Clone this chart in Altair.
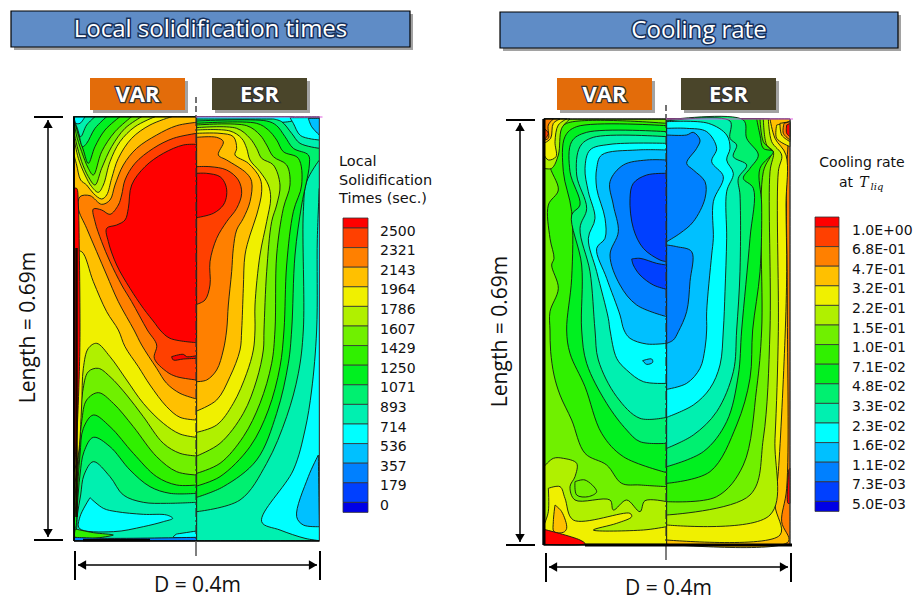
import altair as alt
import pandas as pd

# 16 colour bands, lowest to highest
BAND_COLORS = ["#0000e6", "#0040ff", "#0080ff", "#00c0ff", "#00ffff", "#00f0b0", "#00f070", "#00f020",
               "#30f000", "#70f000", "#b0f000", "#f0f000", "#ffc000", "#ff8000", "#ff4000", "#ff0000"]
TIME_LABELS = ["2500", "2321", "2143", "1964", "1786", "1607", "1429", "1250", "1071", "893", "714", "536", "357", "179", "0"]
RATE_LABELS = ["1.0E+00", "6.8E-01", "4.7E-01", "3.2E-01", "2.2E-01", "1.5E-01", "1.0E-01", "7.1E-02", "4.8E-02",
               "3.3E-02", "2.3E-02", "1.6E-02", "1.1E-02", "7.3E-03", "5.0E-03"]

# Contour regions: (band, outline), painted in order
LEFT_VAR = [
 (5, [(42,35),(410,35),(410,1307),(42,1307)]),
 (6, [(42,35),(410,35),(410,1192),(320,1195),(250,1192),(190,1170),(150,1115),(100,1070),(72,1110),(62,1170),(52,1230),(48,1275),(42,1275)]),
 (7, [(42,35),(410,35),(410,1165),(330,1165),(270,1145),(210,1095),(150,1025),(100,997),(72,1040),(60,1110),(52,1200),(46,1270),(42,1270)]),
 (8, [(42,35),(410,35),(410,1140),(350,1140),(290,1115),(220,1045),(150,965),(100,930),(70,970),(60,1050),(50,1180),(42,1250)]),
 (9, [(42,35),(410,35),(410,1110),(350,1100),(290,1055),(220,965),(160,895),(115,863),(80,885),(65,950),(55,1080),(42,1200)]),
 (10,[(42,35),(410,35),(410,1053),(360,1045),(310,1015),(250,935),(200,870),(150,815),(115,790),(85,800),(68,860),(60,960),(50,1100),(42,1150)]),
 (11,[(42,35),(410,35),(410,997),(360,987),(310,955),(250,895),(200,825),(150,755),(110,715),(85,730),(70,790),(65,900),(55,1050),(42,1100)]),
 (12,[(42,35),(410,35),(410,945),(360,937),(320,905),(270,840),(235,785),(195,725),(175,675),(140,620),(100,530),(65,440),(42,440)]),
 (11,[(335,35),(270,60),(215,100),(175,160),(155,220),(140,270),(125,282),(100,265),(80,240),(62,225),(50,180),(42,150),(42,35)]),
 (10,[(285,35),(225,65),(180,110),(150,170),(130,240),(115,262),(95,245),(75,210),(55,160),(42,100),(42,35)]),
 (9, [(245,35),(195,70),(155,125),(125,190),(105,240),(85,215),(65,170),(48,110),(42,80),(42,35)]),
 (8, [(215,35),(165,80),(125,140),(100,210),(85,190),(65,140),(48,85),(42,35)]),
 (7, [(180,35),(135,75),(105,125),(85,175),(70,135),(52,80),(42,35)]),
 (6, [(140,35),(105,70),(80,115),(68,125),(55,80),(42,45),(42,35)]),
 (5, [(105,35),(80,60),(62,95),(52,70),(42,42),(42,35)]),
 (4, [(75,35),(60,55),(48,55),(42,35)]),
 (13,[(410,52),(350,62),(290,90),(230,130),(190,180),(165,240),(150,285),(125,298),(90,272),(60,275),(55,310),(80,370),(110,440),(140,510),(175,590),(222,675),(245,720),(290,790),(320,835),(360,865),(410,882)]),
 (14,[(410,85),(340,100),(280,130),(225,175),(195,225),(185,270),(175,300),(150,328),(125,315),(100,312),(105,350),(125,410),(150,470),(185,540),(215,590),(262,675),(290,720),(283,760),(320,800),(350,815),(410,825)]),
 (15,[(410,118),(370,120),(310,145),(255,185),(215,240),(205,310),(195,345),(170,360),(140,370),(145,410),(170,480),(210,550),(250,610),(285,655),(300,675),(330,700),(410,713)]),
 (15,[(335,755),(370,748),(380,755),(410,752),(410,760),(370,762),(340,765)]),
 (4, [(90,1178),(60,1235),(58,1270),(160,1280),(250,1265),(310,1250),(338,1240),(320,1230),(250,1228),(170,1220),(130,1210)]),
 (4, [(350,1287),(410,1278),(410,1298),(340,1296)]),
 (8, [(46,1272),(100,1283),(160,1290),(46,1298)]),
 (2, [(42,1297),(150,1300),(410,1297),(410,1307),(42,1307)]),
 (15,[(42,250),(50,250),(55,300),(58,440),(60,680),(58,800),(50,1000),(42,1100)]),
]
LEFT_ESR = [
 (5, [(410,35),(778,35),(778,1307),(410,1307)]),
 (4, [(410,35),(700,35),(700,46),(410,46)]),
 (6, [(410,42),(640,42),(665,50),(695,85),(720,115),(778,130),(778,165),(740,230),(730,320),(730,675),(715,805),(680,935),(620,1075),(540,1185),(410,1220)]),
 (7, [(410,48),(620,48),(650,62),(675,95),(700,130),(745,150),(748,180),(725,300),(705,450),(695,675),(685,775),(650,925),(590,1065),(490,1145),(410,1177)]),
 (8, [(410,55),(590,55),(625,75),(650,105),(670,140),(715,160),(725,240),(700,320),(680,480),(672,675),(660,785),(625,915),(570,1025),(480,1115),(410,1143)]),
 (9, [(410,60),(560,62),(600,90),(620,120),(640,155),(680,180),(690,240),(670,310),(650,450),(645,675),(635,775),(600,895),(550,995),(480,1075),(410,1105)]),
 (10,[(410,68),(530,70),(570,100),(590,130),(605,160),(640,180),(660,240),(650,300),(635,350),(620,500),(612,675),(610,735),(590,825),(550,925),(480,1015),(410,1053)]),
 (11,[(410,75),(510,78),(545,100),(560,130),(570,165),(600,200),(625,240),(632,280),(620,350),(600,450),(585,600),(585,675),(580,735),(560,805),(520,895),(470,960),(410,982)]),
 (12,[(410,85),(480,85),(520,95),(530,130),(525,150),(565,175),(600,220),(605,260),(590,330),(570,390),(555,450),(550,550),(545,675),(540,735),(510,815),(470,885),(410,918)]),
 (13,[(410,97),(470,97),(490,110),(475,150),(500,165),(560,205),(575,230),(570,290),(550,340),(530,375),(520,430),(515,500),(505,600),(500,675),(490,735),(470,795),(440,825),(410,830)]),
 (14,[(410,185),(450,185),(500,195),(535,225),(545,265),(530,310),(500,350),(470,400),(450,470),(450,540),(435,585),(410,598)]),
 (15,[(410,205),(440,205),(480,215),(497,240),(500,270),(490,300),(460,325),(410,338)]),
 (4, [(690,38),(700,55),(722,92),(778,105),(778,38)]),
 (3, [(745,40),(755,65),(778,90),(778,40)]),
 (4, [(778,250),(772,400),(770,675),(755,855),(735,975),(700,1095),(605,1250),(660,1275),(735,1300),(778,1307)]),
 (3, [(775,1050),(745,1115),(710,1235),(730,1260),(778,1265)]),
]
RIGHT_VAR = [
 (9, [(42,42),(410,42),(410,1318),(42,1318)]),
 (8, [(410,55),(110,55),(85,85),(75,150),(60,180),(85,255),(55,300),(60,400),(72,460),(65,480),(85,550),(60,620),(60,675),(62,740),(72,810),(90,870),(125,945),(165,1045),(230,1080),(275,1135),(330,1140),(410,1145)]),
 (7, [(410,62),(140,65),(105,95),(100,200),(125,320),(125,520),(110,675),(120,745),(165,845),(215,985),(280,1055),(410,1103)]),
 (6, [(410,80),(170,82),(125,110),(120,200),(150,300),(125,330),(155,480),(155,675),(170,775),(230,895),(290,975),(330,1010),(410,1015)]),
 (5, [(410,95),(190,97),(150,125),(140,210),(170,310),(150,370),(180,500),(195,675),(205,765),(260,875),(330,940),(410,937)]),
 (4, [(410,115),(240,118),(180,135),(165,190),(175,260),(195,340),(175,400),(200,500),(235,640),(240,675),(260,760),(290,795),(340,830),(410,835)]),
 (3, [(410,135),(320,135),(215,150),(200,190),(200,250),(225,340),(225,400),(200,430),(230,520),(270,630),(282,675),(300,700),(350,717),(410,715)]),
 (2, [(410,165),(350,165),(280,180),(240,230),(250,300),(265,380),(240,450),(270,540),(320,600),(410,635)]),
 (1, [(410,205),(350,210),(310,235),(300,280),(310,370),(340,430),(390,465),(410,470)]),
 (1, [(305,462),(330,460),(380,475),(410,480),(410,553),(370,540),(330,510),(310,480)]),
 (3, [(338,767),(365,762),(368,772),(350,778)]),
 (10,[(42,1085),(70,1060),(100,1060),(140,1075),(135,1115),(120,1145),(135,1185),(240,1185),(250,1215),(290,1185),(330,1220),(345,1187),(410,1190),(410,1318),(42,1318)]),
 (9, [(135,1130),(165,1125),(200,1160),(175,1175),(140,1170)]),
 (11,[(55,1150),(90,1145),(105,1180),(130,1245),(300,1225),(305,1235),(260,1255),(190,1275),(340,1275),(410,1265),(410,1318),(42,1318),(42,1260),(55,1220)]),
 (12,[(75,1200),(95,1220),(110,1270),(100,1282),(72,1280),(70,1250)]),
 (15,[(42,1273),(150,1305),(165,1316),(42,1318)]),
 (10,[(42,42),(120,42),(95,70),(85,150),(65,190),(42,190)]),
 (11,[(42,42),(110,42),(85,60),(75,110),(78,155),(55,165),(42,150)]),
 (12,[(42,42),(90,42),(70,55),(62,100),(42,115)]),
 (13,[(42,42),(70,42),(55,60),(55,100),(42,105)]),
 (14,[(42,70),(55,85),(42,105)]),
]
RIGHT_ESR = [
 (13,[(410,42),(780,42),(780,1318),(410,1318)]),
 (12,[(410,42),(780,42),(770,200),(772,600),(770,1150),(755,1250),(775,1310),(410,1318)]),
 (11,[(410,42),(720,42),(735,100),(768,150),(768,300),(770,500),(765,700),(745,1100),(735,1200),(750,1290),(410,1305)]),
 (10,[(410,42),(715,42),(725,110),(755,150),(745,200),(745,680),(735,1000),(720,1230),(410,1260)]),
 (9, [(410,42),(700,42),(710,120),(730,140),(720,200),(720,675),(700,1000),(660,1170),(410,1230)]),
 (8, [(410,42),(690,42),(700,110),(725,140),(700,200),(695,675),(680,850),(640,1080),(560,1175),(410,1190)]),
 (7, [(410,42),(680,42),(690,90),(700,130),(730,140),(690,190),(695,300),(690,500),(668,675),(660,820),(620,960),(540,1100),(410,1135)]),
 (6, [(410,45),(640,45),(650,100),(685,150),(660,190),(640,220),(670,250),(660,400),(635,675),(625,810),(590,950),(520,1040),(410,1085)]),
 (5, [(410,48),(600,48),(600,100),(620,120),(610,155),(650,180),(625,220),(630,270),(630,500),(620,675),(610,800),(560,920),(490,990),(410,1030)]),
 (4, [(410,50),(535,55),(590,90),(600,130),(590,165),(610,205),(590,260),(590,400),(585,560),(580,675),(570,780),(540,850),(490,900),(410,937)]),
 (3, [(410,70),(470,70),(530,80),(560,130),(545,170),(580,215),(550,290),(550,400),(545,450),(530,620),(530,675),(525,730),(510,790),(470,835),(410,853)]),
 (2, [(410,90),(470,90),(490,82),(510,105),(500,130),(470,175),(490,195),(525,230),(525,280),(490,350),(450,385),(410,410)]),
 (2, [(410,420),(440,425),(485,440),(480,530),(470,620),(445,680),(430,705),(410,715)]),
 (11,[(740,60),(740,100),(780,125),(780,50)]),
 (12,[(750,55),(755,90),(780,110),(780,50)]),
 (13,[(762,55),(760,85),(780,105),(780,50)]),
 (15,[(770,60),(770,85),(780,95),(780,55)]),
 (15,[(776,1095),(780,1090),(780,1195),(774,1195)]),
]

W, H = 906, 592
xs = alt.Scale(domain=[8, 8 + W], range=[0, W])
ys = alt.Scale(domain=[8 + H, 8], range=[H, 0])
X = lambda f="x": alt.X(f"{f}:Q", scale=xs, axis=None)
Y = lambda f="y": alt.Y(f"{f}:Q", scale=ys, axis=None)

def rect(x1, y1, x2, y2, **kw):
    df = pd.DataFrame([dict(x=x1, y=y1, x2=x2, y2=y2)])
    return alt.Chart(df).mark_rect(**kw).encode(x=X(), y=Y(), x2="x2:Q", y2="y2:Q")

def seg(x1, y1, x2, y2, **kw):
    df = pd.DataFrame([dict(x=x1, y=y1, x2=x2, y2=y2)])
    return alt.Chart(df).mark_rule(**kw).encode(x=X(), y=Y(), x2="x2:Q", y2="y2:Q")

def txt(s, x, y, **kw):
    df = pd.DataFrame([dict(x=x, y=y, t=s)])
    kw.setdefault("baseline", "middle")
    return alt.Chart(df).mark_text(**kw).encode(x=X(), y=Y(), text="t:N")

def tri(x, y, shape, size=90):
    df = pd.DataFrame([dict(x=x, y=y)])
    return alt.Chart(df).mark_point(shape=shape, filled=True, color="black", size=size, opacity=1).encode(x=X(), y=Y())

EDGE_X = {40, 42, 410, 778, 780}
EDGE_Y = {35, 42, 1307, 1318}
rows = []
pid = 0
for regions, x0 in ((LEFT_VAR, 60), (LEFT_ESR, 60), (RIGHT_VAR, 530), (RIGHT_ESR, 530)):
    for band, outline in regions:
        pid += 1
        i = 0
        for zx, zy in list(outline) + [outline[0]]:
            # points on a wall are repeated so the smooth outline stays on the wall
            for _ in range(2 if (zx in EDGE_X or zy in EDGE_Y) else 1):
                rows.append(dict(pid=pid, i=i, x=x0 + zx / 3, y=105 + zy / 3, c=BAND_COLORS[band]))
                i += 1
contours = alt.Chart(pd.DataFrame(rows)).mark_line(stroke="#111a11", strokeWidth=0.9, interpolate="catmull-rom").encode(
    x=X(), y=Y(), order="i:Q", detail="pid:N", fill=alt.Fill("c:N", scale=None))

layers = [contours]

SHADOW = "#555555"
def title_bar(x1, x2, y1, y2, s):
    cx = (x1 + x2) / 2
    cy = (y1 + y2) / 2 + 0.5
    return [rect(x1 + 3, y1 + 3, x2 + 3, y2 + 3, color=SHADOW, opacity=0.55),
            rect(x1, y1, x2, y2, fill="#5f8cc6", stroke="black", strokeWidth=1.2),
            txt(s, cx, cy, font="Open Sans", fontSize=24, align="center", stroke="#16305a", strokeWidth=3, fill="#16305a"),
            txt(s, cx, cy, font="Open Sans", fontSize=24, align="center", color="white")]

def tag(x1, x2, s, c):
    return [rect(x1 + 3, 81, x2 + 3, 113, color=SHADOW, opacity=0.55),
            rect(x1, 78, x2, 110, color=c),
            txt(s, (x1 + x2) / 2, 95, font="Open Sans", fontSize=22, fontWeight="bold", align="center",
                stroke="#333333", strokeWidth=2.5, fill="#333333"),
            txt(s, (x1 + x2) / 2, 95, font="Open Sans", fontSize=22, fontWeight="bold", align="center", color="white")]

def frame(x1, y1, x2, y2, cx, cy1, cy2):
    return [seg(x1, y1, cx, y1, color="black", strokeWidth=1.2), seg(x1, y2, x2, y2, color="black", strokeWidth=1.6),
            seg(x1, y1, x1, y2, color="black", strokeWidth=1.8), seg(x2, y1, x2, y2, color="#444444", strokeWidth=1),
            seg(cx, cy1, cx, y1, color="#444444", strokeWidth=1.5, strokeDash=[6, 3]),
            seg(cx, y1, cx, y2, color="#333333", strokeWidth=1.2, strokeDash=[9, 3, 2, 3]),
            seg(cx, y2, cx, cy2, color="#555555", strokeWidth=1.5),
            seg(cx, y1, x2 + 3, y1, color="#e060e0", strokeWidth=1.2)]

def dims(tx, arrow_x, y1, y2, xl, xr, arrow_y, ty):
    return [seg(arrow_x - 14, y1, arrow_x + 15, y1, color="black", strokeWidth=2),
            seg(arrow_x - 14, y2, arrow_x + 15, y2, color="black", strokeWidth=2),
            seg(arrow_x, y1 + 3, arrow_x, y2 - 3, color="black", strokeWidth=1.5),
            tri(arrow_x, y1 + 7, "triangle-up"), tri(arrow_x, y2 - 7, "triangle-down"),
            seg(xl, arrow_y - 14, xl, arrow_y + 15, color="black", strokeWidth=2),
            seg(xr, arrow_y - 14, xr, arrow_y + 15, color="black", strokeWidth=2),
            seg(xl + 3, arrow_y, xr - 3, arrow_y, color="black", strokeWidth=1.5),
            tri(xl + 7, arrow_y, "triangle-left"), tri(xr - 7, arrow_y, "triangle-right"),
            txt("Length = 0.69m", tx, (y1 + y2) / 2 - 1, font="Open Sans", fontSize=21, angle=270, align="center", color="#111111"),
            txt("D = 0.4m", (xl + xr) / 2, ty, font="Open Sans", fontSize=21, align="center", color="#111111")]

def legend(x1, x2, top, labels, lx):
    step = 19.6
    half = step / 2 + 0.2
    recs = []
    edges = [top] + [top + half + step * k for k in range(15)] + [top + half * 2 + step * 14]
    for k in range(16):
        recs.append(dict(x=x1, x2=x2, y=edges[k], y2=edges[k + 1], c=BAND_COLORS[15 - k]))
    bars = alt.Chart(pd.DataFrame(recs)).mark_rect(stroke="#333333", strokeWidth=0.8).encode(
        x=X(), x2="x2:Q", y=Y(), y2="y2:Q", fill=alt.Fill("c:N", scale=None))
    lab = pd.DataFrame([dict(x=lx, y=top + 13.5 + step * k, t=t) for k, t in enumerate(labels)])
    texts = alt.Chart(lab).mark_text(font="DejaVu Sans", fontSize=14, align="left", baseline="middle", color="#111111").encode(
        x=X(), y=Y(), text="t:N")
    return [bars, texts]

layers += title_bar(11, 410, 11, 47, "Local solidification times")
layers += title_bar(500, 898, 12, 48, "Cooling rate")
layers += tag(90, 185, "VAR", "#e36c0a") + tag(212, 307, "ESR", "#4a452a")
layers += tag(557, 652, "VAR", "#e36c0a") + tag(681, 776, "ESR", "#4a452a")
layers += frame(74, 117, 319.5, 541, 196, 97, 556) + frame(543.5, 119, 790, 545, 666, 105, 560)
# heavy dark lines along the walls of the VAR halves
layers += [seg(76.5, 248, 76.5, 517, color="#1a0a00", strokeWidth=2.5),
           seg(83, 540, 150, 540, color="black", strokeWidth=2.5),
           seg(544, 119, 544, 545, color="black", strokeWidth=3),
           seg(585, 545, 792, 545, color="black", strokeWidth=3)]
layers += dims(29, 48, 117, 540, 75, 320, 565, 586) + dims(501, 520, 120, 545, 546, 791, 567, 589)
layers += legend(343, 368, 218, TIME_LABELS, 380) + legend(815, 839, 217, RATE_LABELS, 852)
for s, y in (("Local", 162), ("Solidification", 181), ("Times (sec.)", 199)):
    layers.append(txt(s, 339, y, font="DejaVu Sans", fontSize=14.5, align="left", color="#111111"))
layers.append(txt("Cooling rate", 862, 163, font="DejaVu Sans", fontSize=14, align="center", color="#111111"))
layers.append(txt("at", 846, 183, font="DejaVu Sans", fontSize=14, align="center", color="#111111"))
layers.append(txt("T", 864, 183, font="DejaVu Serif", fontStyle="italic", fontSize=14, align="center", color="#111111"))
layers.append(txt("liq", 877, 187, font="DejaVu Serif", fontStyle="italic", fontSize=10, align="center", color="#111111"))

chart = alt.layer(*layers).properties(width=W, height=H, padding=0, autosize=alt.AutoSizeParams(type="none"),
                                      background="white").configure_view(stroke=None)
chart.save("out.html", embed_options={"renderer": "svg", "actions": False})
